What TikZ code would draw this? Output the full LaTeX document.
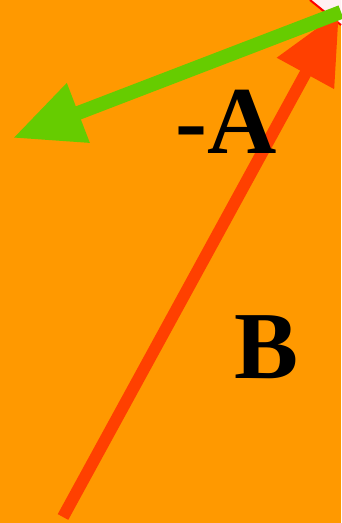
\documentclass[tikz,border=0pt]{standalone}
\usepackage{fontspec}
\setmainfont{Liberation Serif}
\usepackage{tikz}
\usetikzlibrary{arrows.meta}
\definecolor{fondonaranja}{RGB}{255,153,0}
\definecolor{verdelima}{RGB}{102,204,0}
\definecolor{rojovivo}{RGB}{255,64,0}
\definecolor{rosapalido}{RGB}{255,240,243}
\tikzset{
  vector/.style={
    line width=14pt,
    -{Triangle[length=70pt,width=60pt]}
  },
  etiqueta/.style={
    anchor=base,
    inner sep=0pt,
    font=\fontsize{96}{96}\selectfont\bfseries
  }
}

\begin{document}
\begin{tikzpicture}[x=1pt,y=-1pt]
\fill[fondonaranja] (0,0) rectangle (341,523);
\useasboundingbox (0,0) rectangle (341,523);
\fill[rosapalido] (310,0) -- (341,25) -- (341,0) -- cycle;
\draw[red, line width=2pt] (310,0) -- (341,25);
\coordinate (b cola) at (63,517);
\coordinate (b punta) at (339,12);
\coordinate (a cola) at (341,12);
\coordinate (a punta) at (13,138);
\draw[vector, rojovivo, line width=12pt, -{Triangle[length=70pt,width=62pt]}] (b cola) -- (b punta);
\draw[vector, verdelima] (a cola) -- (a punta);
\node[etiqueta] (menos a) at (226,153) {-A};
\node[etiqueta] (b) at (267,378) {B};
\end{tikzpicture}
\end{document}
